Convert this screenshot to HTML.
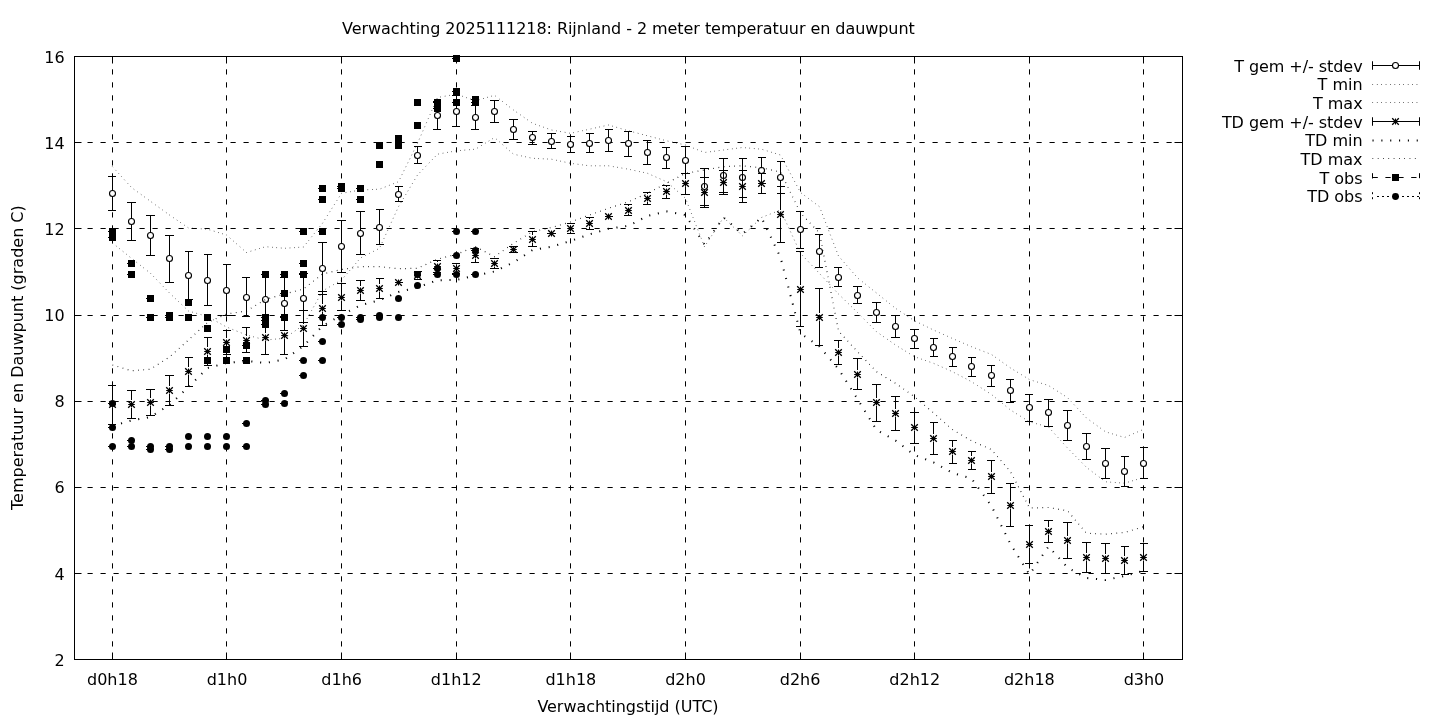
<!DOCTYPE html>
<html lang="nl"><head><meta charset="utf-8">
<title>Verwachting 2025111218: Rijnland - 2 meter temperatuur en dauwpunt</title>
<style>
html,body{margin:0;padding:0;background:#fff;}
body{width:1440px;height:720px;overflow:hidden;}
svg{display:block;position:absolute;left:0;top:0;will-change:transform;}
text{font-family:"DejaVu Sans", "Liberation Sans", sans-serif;font-size:16.00px;fill:#000;}
.ln{stroke:#000;stroke-width:1;fill:none;}
.grid{stroke:#000;stroke-width:1;fill:none;stroke-dasharray:5.2 7.8;}
.d1{stroke:#000;stroke-width:1;fill:none;stroke-dasharray:0.55 3.87;}
.d12{stroke:#000;stroke-width:1.2;fill:none;stroke-dasharray:0.7 4.6;}
.d2{stroke:#000;stroke-width:2;fill:none;stroke-dasharray:1.1 7.74;}
.oc{stroke:#000;stroke-width:1.12;fill:#fff;}
.lx{stroke:#000;stroke-width:1.3;fill:none;}
</style></head><body>
<svg width="1440" height="720" viewBox="0 0 1440 720">
<rect x="0" y="0" width="1440" height="720" fill="#fff"/>
<g class="grid">
<path d="M112.50 659.50V56.50"/>
<path d="M226.50 659.50V56.50"/>
<path d="M341.50 659.50V56.50"/>
<path d="M456.50 659.50V56.50"/>
<path d="M570.50 659.50V56.50"/>
<path d="M685.50 659.50V56.50"/>
<path d="M800.50 659.50V56.50"/>
<path d="M914.50 659.50V56.50"/>
<path d="M1029.50 659.50V56.50"/>
<path d="M1143.50 659.50V56.50"/>
<path d="M74.50 573.50H1182.50"/>
<path d="M74.50 487.50H1182.50"/>
<path d="M74.50 401.50H1182.50"/>
<path d="M74.50 315.50H1182.50"/>
<path d="M74.50 228.50H1182.50"/>
<path d="M74.50 142.50H1182.50"/>
</g>
<g class="ln">
<path d="M112.50 659.50v-7M112.50 56.50v7"/>
<path d="M226.50 659.50v-7M226.50 56.50v7"/>
<path d="M341.50 659.50v-7M341.50 56.50v7"/>
<path d="M456.50 659.50v-7M456.50 56.50v7"/>
<path d="M570.50 659.50v-7M570.50 56.50v7"/>
<path d="M685.50 659.50v-7M685.50 56.50v7"/>
<path d="M800.50 659.50v-7M800.50 56.50v7"/>
<path d="M914.50 659.50v-7M914.50 56.50v7"/>
<path d="M1029.50 659.50v-7M1029.50 56.50v7"/>
<path d="M1143.50 659.50v-7M1143.50 56.50v7"/>
<path d="M74.50 659.50h7M1182.50 659.50h-8"/>
<path d="M74.50 573.50h7M1182.50 573.50h-8"/>
<path d="M74.50 487.50h7M1182.50 487.50h-8"/>
<path d="M74.50 401.50h7M1182.50 401.50h-8"/>
<path d="M74.50 315.50h7M1182.50 315.50h-8"/>
<path d="M74.50 228.50h7M1182.50 228.50h-8"/>
<path d="M74.50 142.50h7M1182.50 142.50h-8"/>
<path d="M74.50 56.50h7M1182.50 56.50h-8"/>
</g>
<path class="ln" d="M112.50 176.50V210.50M108.00 176.50H116.00M108.00 210.50H116.00M131.50 202.50V240.50M127.00 202.50H136.00M127.00 240.50H136.00M150.50 215.50V255.50M146.00 215.50H155.00M146.00 255.50H155.00M169.50 235.50V282.50M165.00 235.50H174.00M165.00 282.50H174.00M188.50 251.50V299.50M185.00 251.50H193.00M185.00 299.50H193.00M207.50 254.50V305.50M204.00 254.50H212.00M204.00 305.50H212.00M226.50 264.50V315.50M223.00 264.50H231.00M223.00 315.50H231.00M246.50 277.50V316.50M242.00 277.50H250.00M242.00 316.50H250.00M265.50 274.50V324.50M261.00 274.50H269.00M261.00 324.50H269.00M284.50 277.50V330.50M280.00 277.50H288.00M280.00 330.50H288.00M303.50 273.50V322.50M299.00 273.50H308.00M299.00 322.50H308.00M322.50 242.50V294.50M318.00 242.50H327.00M318.00 294.50H327.00M341.50 220.50V272.50M337.00 220.50H346.00M337.00 272.50H346.00M360.50 211.50V254.50M356.00 211.50H365.00M356.00 254.50H365.00M379.50 209.50V244.50M376.00 209.50H384.00M376.00 244.50H384.00M398.50 186.50V201.50M395.00 186.50H403.00M395.00 201.50H403.00M417.50 146.50V163.50M414.00 146.50H422.00M414.00 163.50H422.00M437.50 101.50V129.50M433.00 101.50H441.00M433.00 129.50H441.00M456.50 95.50V126.50M452.00 95.50H460.00M452.00 126.50H460.00M475.50 105.50V129.50M471.00 105.50H479.00M471.00 129.50H479.00M494.50 100.50V122.50M490.00 100.50H499.00M490.00 122.50H499.00M513.50 119.50V139.50M509.00 119.50H518.00M509.00 139.50H518.00M532.50 131.50V144.50M528.00 131.50H537.00M528.00 144.50H537.00M551.50 133.50V148.50M547.00 133.50H556.00M547.00 148.50H556.00M570.50 136.50V152.50M567.00 136.50H575.00M567.00 152.50H575.00M589.50 133.50V152.50M586.00 133.50H594.00M586.00 152.50H594.00M608.50 129.50V151.50M605.00 129.50H613.00M605.00 151.50H613.00M628.50 131.50V156.50M624.00 131.50H632.00M624.00 156.50H632.00M647.50 140.50V164.50M643.00 140.50H651.00M643.00 164.50H651.00M666.50 147.50V168.50M662.00 147.50H670.00M662.00 168.50H670.00M685.50 146.50V173.50M681.00 146.50H690.00M681.00 173.50H690.00M704.50 168.50V205.50M700.00 168.50H709.00M700.00 205.50H709.00M723.50 158.50V192.50M719.00 158.50H728.00M719.00 192.50H728.00M742.50 158.50V197.50M739.00 158.50H747.00M739.00 197.50H747.00M761.50 157.50V183.50M758.00 157.50H766.00M758.00 183.50H766.00M780.50 161.50V193.50M777.00 161.50H785.00M777.00 193.50H785.00M800.50 211.50V248.50M796.00 211.50H804.00M796.00 248.50H804.00M819.50 234.50V267.50M815.00 234.50H823.00M815.00 267.50H823.00M838.50 267.50V286.50M834.00 267.50H842.00M834.00 286.50H842.00M857.50 286.50V303.50M853.00 286.50H862.00M853.00 303.50H862.00M876.50 302.50V322.50M872.00 302.50H881.00M872.00 322.50H881.00M895.50 315.50V337.50M891.00 315.50H900.00M891.00 337.50H900.00M914.50 329.50V348.50M910.00 329.50H919.00M910.00 348.50H919.00M933.50 338.50V356.50M930.00 338.50H938.00M930.00 356.50H938.00M952.50 347.50V366.50M949.00 347.50H957.00M949.00 366.50H957.00M971.50 357.50V376.50M968.00 357.50H976.00M968.00 376.50H976.00M991.50 365.50V386.50M987.00 365.50H995.00M987.00 386.50H995.00M1010.50 379.50V402.50M1006.00 379.50H1014.00M1006.00 402.50H1014.00M1029.50 394.50V421.50M1025.00 394.50H1033.00M1025.00 421.50H1033.00M1048.50 399.50V426.50M1044.00 399.50H1053.00M1044.00 426.50H1053.00M1067.50 410.50V440.50M1063.00 410.50H1072.00M1063.00 440.50H1072.00M1086.50 433.50V459.50M1082.00 433.50H1091.00M1082.00 459.50H1091.00M1105.50 448.50V478.50M1101.00 448.50H1110.00M1101.00 478.50H1110.00M1124.50 456.50V486.50M1121.00 456.50H1129.00M1121.00 486.50H1129.00M1143.50 447.50V478.50M1140.00 447.50H1148.00M1140.00 478.50H1148.00"/>
<g class="oc">
<circle cx="112.50" cy="193.50" r="3.0"/>
<circle cx="131.50" cy="221.50" r="3.0"/>
<circle cx="150.50" cy="235.50" r="3.0"/>
<circle cx="169.50" cy="258.50" r="3.0"/>
<circle cx="188.50" cy="275.50" r="3.0"/>
<circle cx="207.50" cy="280.50" r="3.0"/>
<circle cx="226.50" cy="290.50" r="3.0"/>
<circle cx="246.50" cy="297.50" r="3.0"/>
<circle cx="265.50" cy="299.50" r="3.0"/>
<circle cx="284.50" cy="303.50" r="3.0"/>
<circle cx="303.50" cy="298.50" r="3.0"/>
<circle cx="322.50" cy="268.50" r="3.0"/>
<circle cx="341.50" cy="246.50" r="3.0"/>
<circle cx="360.50" cy="233.50" r="3.0"/>
<circle cx="379.50" cy="227.50" r="3.0"/>
<circle cx="398.50" cy="194.50" r="3.0"/>
<circle cx="417.50" cy="155.50" r="3.0"/>
<circle cx="437.50" cy="115.50" r="3.0"/>
<circle cx="456.50" cy="111.50" r="3.0"/>
<circle cx="475.50" cy="117.50" r="3.0"/>
<circle cx="494.50" cy="111.50" r="3.0"/>
<circle cx="513.50" cy="129.50" r="3.0"/>
<circle cx="532.50" cy="137.50" r="3.0"/>
<circle cx="551.50" cy="141.50" r="3.0"/>
<circle cx="570.50" cy="144.50" r="3.0"/>
<circle cx="589.50" cy="143.50" r="3.0"/>
<circle cx="608.50" cy="140.50" r="3.0"/>
<circle cx="628.50" cy="143.50" r="3.0"/>
<circle cx="647.50" cy="152.50" r="3.0"/>
<circle cx="666.50" cy="157.50" r="3.0"/>
<circle cx="685.50" cy="160.50" r="3.0"/>
<circle cx="704.50" cy="186.50" r="3.0"/>
<circle cx="723.50" cy="175.50" r="3.0"/>
<circle cx="742.50" cy="177.50" r="3.0"/>
<circle cx="761.50" cy="170.50" r="3.0"/>
<circle cx="780.50" cy="177.50" r="3.0"/>
<circle cx="800.50" cy="229.50" r="3.0"/>
<circle cx="819.50" cy="251.50" r="3.0"/>
<circle cx="838.50" cy="277.50" r="3.0"/>
<circle cx="857.50" cy="295.50" r="3.0"/>
<circle cx="876.50" cy="312.50" r="3.0"/>
<circle cx="895.50" cy="326.50" r="3.0"/>
<circle cx="914.50" cy="338.50" r="3.0"/>
<circle cx="933.50" cy="347.50" r="3.0"/>
<circle cx="952.50" cy="356.50" r="3.0"/>
<circle cx="971.50" cy="366.50" r="3.0"/>
<circle cx="991.50" cy="375.50" r="3.0"/>
<circle cx="1010.50" cy="390.50" r="3.0"/>
<circle cx="1029.50" cy="407.50" r="3.0"/>
<circle cx="1048.50" cy="412.50" r="3.0"/>
<circle cx="1067.50" cy="425.50" r="3.0"/>
<circle cx="1086.50" cy="446.50" r="3.0"/>
<circle cx="1105.50" cy="463.50" r="3.0"/>
<circle cx="1124.50" cy="471.50" r="3.0"/>
<circle cx="1143.50" cy="463.50" r="3.0"/>
</g>
<path class="d1" d="M112.50 243.00L131.50 258.30L150.50 273.30L169.50 293.00L188.50 311.00L207.50 316.50L226.50 327.00L246.50 335.00L265.50 340.00L284.50 338.30L303.50 325.00L322.50 291.00L341.50 280.00L360.50 258.00L379.50 248.30L398.50 206.70L417.50 175.00L437.50 154.20L456.50 150.80L475.50 149.20L494.50 137.50L513.50 154.20L532.50 158.30L551.50 159.20L570.50 163.30L589.50 165.80L608.50 165.80L628.50 169.20L647.50 173.30L666.50 181.70L685.50 198.30L704.50 246.70L723.50 217.50L742.50 235.80L761.50 217.50L780.50 210.00L800.50 253.30L819.50 273.50L838.50 294.00L857.50 312.50L876.50 331.70L895.50 345.00L914.50 356.70L933.50 363.30L952.50 371.70L971.50 381.70L991.50 394.50L1010.50 410.00L1029.50 421.80L1048.50 427.00L1067.50 448.00L1086.50 467.40L1105.50 481.80L1124.50 483.20L1143.50 477.50"/>
<path class="d1" d="M112.50 166.70L131.50 187.50L150.50 201.30L169.50 215.00L188.50 228.00L207.50 229.20L226.50 235.00L246.50 252.50L265.50 246.70L284.50 248.30L303.50 247.00L322.50 223.30L341.50 193.30L360.50 190.00L379.50 189.20L398.50 181.70L417.50 143.30L437.50 97.50L456.50 94.20L475.50 100.80L494.50 95.30L513.50 110.00L532.50 123.30L551.50 130.00L570.50 133.30L589.50 129.20L608.50 125.00L628.50 130.80L647.50 135.80L666.50 140.80L685.50 145.00L704.50 152.50L723.50 150.00L742.50 147.50L761.50 149.20L780.50 155.00L800.50 192.50L819.50 206.70L838.50 256.00L857.50 277.80L876.50 293.00L895.50 308.30L914.50 320.80L933.50 330.00L952.50 338.50L971.50 346.70L991.50 354.50L1010.50 368.00L1029.50 379.60L1048.50 385.50L1067.50 397.60L1086.50 418.00L1105.50 431.80L1124.50 437.50L1143.50 429.40"/>
<path class="ln" d="M112.50 385.50V400.00M112.50 408.00V424.50M108.00 385.50H116.00M108.00 424.50H116.00M131.50 390.50V400.00M131.50 408.00V418.50M127.00 390.50H136.00M127.00 418.50H136.00M150.50 389.50V398.00M150.50 406.00V415.50M146.00 389.50H155.00M146.00 415.50H155.00M169.50 375.50V386.00M169.50 394.00V405.50M165.00 375.50H174.00M165.00 405.50H174.00M188.50 357.50V367.00M188.50 375.00V386.50M185.00 357.50H193.00M185.00 386.50H193.00M207.50 337.50V347.00M207.50 355.00V365.50M204.00 337.50H212.00M204.00 365.50H212.00M226.50 330.50V338.00M226.50 346.00V354.50M223.00 330.50H231.00M223.00 354.50H231.00M246.50 327.50V336.00M246.50 344.00V352.50M242.00 327.50H250.00M242.00 352.50H250.00M265.50 320.50V333.00M265.50 341.00V354.50M261.00 320.50H269.00M261.00 354.50H269.00M284.50 316.50V331.00M284.50 339.00V354.50M280.00 316.50H288.00M280.00 354.50H288.00M303.50 310.50V324.00M303.50 332.00V346.50M299.00 310.50H308.00M299.00 346.50H308.00M322.50 291.50V304.00M322.50 312.00V325.50M318.00 291.50H327.00M318.00 325.50H327.00M341.50 283.50V293.00M341.50 301.00V310.50M337.00 283.50H346.00M337.00 310.50H346.00M360.50 280.50V286.00M360.50 294.00V300.50M356.00 280.50H365.00M356.00 300.50H365.00M379.50 278.50V284.00M379.50 292.00V298.50M376.00 278.50H384.00M376.00 298.50H384.00M395.00 282.50H403.00M395.00 282.50H403.00M417.50 279.00V279.50M414.00 271.50H422.00M414.00 279.50H422.00M437.50 260.50V262.00M437.50 270.00V272.50M433.00 260.50H441.00M433.00 272.50H441.00M456.50 263.50V264.00M456.50 272.00V273.50M452.00 263.50H460.00M452.00 273.50H460.00M475.50 248.50V251.00M475.50 259.00V262.50M471.00 248.50H479.00M471.00 262.50H479.00M494.50 258.50V259.00M494.50 267.00V268.50M490.00 258.50H499.00M490.00 268.50H499.00M509.00 246.50H518.00M509.00 252.50H518.00M532.50 231.50V235.00M532.50 243.00V246.50M528.00 231.50H537.00M528.00 246.50H537.00M547.00 233.50H556.00M547.00 233.50H556.00M570.50 223.50V224.00M570.50 232.00V233.50M567.00 223.50H575.00M567.00 233.50H575.00M589.50 217.50V219.00M589.50 227.00V229.50M586.00 217.50H594.00M586.00 229.50H594.00M605.00 216.50H613.00M605.00 216.50H613.00M628.50 204.50V206.00M628.50 214.00V215.50M624.00 204.50H632.00M624.00 215.50H632.00M647.50 192.50V194.00M647.50 202.00V204.50M643.00 192.50H651.00M643.00 204.50H651.00M666.50 185.50V187.00M666.50 195.00V198.50M662.00 185.50H670.00M662.00 198.50H670.00M685.50 173.50V179.00M685.50 187.00V194.50M681.00 173.50H690.00M681.00 194.50H690.00M704.50 177.50V188.00M704.50 196.00V207.50M700.00 177.50H709.00M700.00 207.50H709.00M723.50 170.50V178.00M723.50 186.00V194.50M719.00 170.50H728.00M719.00 194.50H728.00M742.50 170.50V182.00M742.50 190.00V202.50M739.00 170.50H747.00M739.00 202.50H747.00M761.50 173.50V179.00M761.50 187.00V193.50M758.00 173.50H766.00M758.00 193.50H766.00M780.50 186.50V210.00M780.50 218.00V242.50M777.00 186.50H785.00M777.00 242.50H785.00M800.50 251.50V285.00M800.50 293.00V326.50M796.00 251.50H804.00M796.00 326.50H804.00M819.50 288.50V313.00M819.50 321.00V345.50M815.00 288.50H823.00M815.00 345.50H823.00M838.50 340.50V348.00M838.50 356.00V364.50M834.00 340.50H842.00M834.00 364.50H842.00M857.50 358.50V370.00M857.50 378.00V389.50M853.00 358.50H862.00M853.00 389.50H862.00M876.50 384.50V398.00M876.50 406.00V421.50M872.00 384.50H881.00M872.00 421.50H881.00M895.50 396.50V409.00M895.50 417.00V430.50M891.00 396.50H900.00M891.00 430.50H900.00M914.50 412.50V423.00M914.50 431.00V443.50M910.00 412.50H919.00M910.00 443.50H919.00M933.50 422.50V434.00M933.50 442.00V454.50M930.00 422.50H938.00M930.00 454.50H938.00M952.50 440.50V447.00M952.50 455.00V463.50M949.00 440.50H957.00M949.00 463.50H957.00M971.50 451.50V456.00M971.50 464.00V469.50M968.00 451.50H976.00M968.00 469.50H976.00M991.50 460.50V472.00M991.50 480.00V493.50M987.00 460.50H995.00M987.00 493.50H995.00M1010.50 483.50V501.00M1010.50 509.00V526.50M1006.00 483.50H1014.00M1006.00 526.50H1014.00M1029.50 525.50V540.00M1029.50 548.00V563.50M1025.00 525.50H1033.00M1025.00 563.50H1033.00M1048.50 520.50V527.00M1048.50 535.00V542.50M1044.00 520.50H1053.00M1044.00 542.50H1053.00M1067.50 522.50V536.00M1067.50 544.00V558.50M1063.00 522.50H1072.00M1063.00 558.50H1072.00M1086.50 542.50V553.00M1086.50 561.00V572.50M1082.00 542.50H1091.00M1082.00 572.50H1091.00M1105.50 543.50V554.00M1105.50 562.00V573.50M1101.00 543.50H1110.00M1101.00 573.50H1110.00M1124.50 546.50V556.00M1124.50 564.00V574.50M1121.00 546.50H1129.00M1121.00 574.50H1129.00M1143.50 543.50V553.00M1143.50 561.00V571.50M1140.00 543.50H1148.00M1140.00 571.50H1148.00"/>
<path class="ln" d="M109.20 404.50h6.60M112.50 401.50v6.00M128.20 404.50h6.60M131.50 401.50v6.00M147.20 402.50h6.60M150.50 399.50v6.00M166.20 390.50h6.60M169.50 387.50v6.00M185.20 371.50h6.60M188.50 368.50v6.00M204.20 351.50h6.60M207.50 348.50v6.00M223.20 342.50h6.60M226.50 339.50v6.00M243.20 340.50h6.60M246.50 337.50v6.00M262.20 337.50h6.60M265.50 334.50v6.00M281.20 335.50h6.60M284.50 332.50v6.00M300.20 328.50h6.60M303.50 325.50v6.00M319.20 308.50h6.60M322.50 305.50v6.00M338.20 297.50h6.60M341.50 294.50v6.00M357.20 290.50h6.60M360.50 287.50v6.00M376.20 288.50h6.60M379.50 285.50v6.00M395.20 282.50h6.60M398.50 279.50v6.00M414.20 275.50h6.60M417.50 272.50v6.00M434.20 266.50h6.60M437.50 263.50v6.00M453.20 268.50h6.60M456.50 265.50v6.00M472.20 255.50h6.60M475.50 252.50v6.00M491.20 263.50h6.60M494.50 260.50v6.00M510.20 249.50h6.60M513.50 246.50v6.00M529.20 239.50h6.60M532.50 236.50v6.00M548.20 233.50h6.60M551.50 230.50v6.00M567.20 228.50h6.60M570.50 225.50v6.00M586.20 223.50h6.60M589.50 220.50v6.00M605.20 216.50h6.60M608.50 213.50v6.00M625.20 210.50h6.60M628.50 207.50v6.00M644.20 198.50h6.60M647.50 195.50v6.00M663.20 191.50h6.60M666.50 188.50v6.00M682.20 183.50h6.60M685.50 180.50v6.00M701.20 192.50h6.60M704.50 189.50v6.00M720.20 182.50h6.60M723.50 179.50v6.00M739.20 186.50h6.60M742.50 183.50v6.00M758.20 183.50h6.60M761.50 180.50v6.00M777.20 214.50h6.60M780.50 211.50v6.00M797.20 289.50h6.60M800.50 286.50v6.00M816.20 317.50h6.60M819.50 314.50v6.00M835.20 352.50h6.60M838.50 349.50v6.00M854.20 374.50h6.60M857.50 371.50v6.00M873.20 402.50h6.60M876.50 399.50v6.00M892.20 413.50h6.60M895.50 410.50v6.00M911.20 427.50h6.60M914.50 424.50v6.00M930.20 438.50h6.60M933.50 435.50v6.00M949.20 451.50h6.60M952.50 448.50v6.00M968.20 460.50h6.60M971.50 457.50v6.00M988.20 476.50h6.60M991.50 473.50v6.00M1007.20 505.50h6.60M1010.50 502.50v6.00M1026.20 544.50h6.60M1029.50 541.50v6.00M1045.20 531.50h6.60M1048.50 528.50v6.00M1064.20 540.50h6.60M1067.50 537.50v6.00M1083.20 557.50h6.60M1086.50 554.50v6.00M1102.20 558.50h6.60M1105.50 555.50v6.00M1121.20 560.50h6.60M1124.50 557.50v6.00M1140.20 557.50h6.60M1143.50 554.50v6.00"/>
<path class="lx" d="M109.20 401.20l6.60 6.60M109.20 407.80l6.60 -6.60M128.20 401.20l6.60 6.60M128.20 407.80l6.60 -6.60M147.20 399.20l6.60 6.60M147.20 405.80l6.60 -6.60M166.20 387.20l6.60 6.60M166.20 393.80l6.60 -6.60M185.20 368.20l6.60 6.60M185.20 374.80l6.60 -6.60M204.20 348.20l6.60 6.60M204.20 354.80l6.60 -6.60M223.20 339.20l6.60 6.60M223.20 345.80l6.60 -6.60M243.20 337.20l6.60 6.60M243.20 343.80l6.60 -6.60M262.20 334.20l6.60 6.60M262.20 340.80l6.60 -6.60M281.20 332.20l6.60 6.60M281.20 338.80l6.60 -6.60M300.20 325.20l6.60 6.60M300.20 331.80l6.60 -6.60M319.20 305.20l6.60 6.60M319.20 311.80l6.60 -6.60M338.20 294.20l6.60 6.60M338.20 300.80l6.60 -6.60M357.20 287.20l6.60 6.60M357.20 293.80l6.60 -6.60M376.20 285.20l6.60 6.60M376.20 291.80l6.60 -6.60M395.20 279.20l6.60 6.60M395.20 285.80l6.60 -6.60M414.20 272.20l6.60 6.60M414.20 278.80l6.60 -6.60M434.20 263.20l6.60 6.60M434.20 269.80l6.60 -6.60M453.20 265.20l6.60 6.60M453.20 271.80l6.60 -6.60M472.20 252.20l6.60 6.60M472.20 258.80l6.60 -6.60M491.20 260.20l6.60 6.60M491.20 266.80l6.60 -6.60M510.20 246.20l6.60 6.60M510.20 252.80l6.60 -6.60M529.20 236.20l6.60 6.60M529.20 242.80l6.60 -6.60M548.20 230.20l6.60 6.60M548.20 236.80l6.60 -6.60M567.20 225.20l6.60 6.60M567.20 231.80l6.60 -6.60M586.20 220.20l6.60 6.60M586.20 226.80l6.60 -6.60M605.20 213.20l6.60 6.60M605.20 219.80l6.60 -6.60M625.20 207.20l6.60 6.60M625.20 213.80l6.60 -6.60M644.20 195.20l6.60 6.60M644.20 201.80l6.60 -6.60M663.20 188.20l6.60 6.60M663.20 194.80l6.60 -6.60M682.20 180.20l6.60 6.60M682.20 186.80l6.60 -6.60M701.20 189.20l6.60 6.60M701.20 195.80l6.60 -6.60M720.20 179.20l6.60 6.60M720.20 185.80l6.60 -6.60M739.20 183.20l6.60 6.60M739.20 189.80l6.60 -6.60M758.20 180.20l6.60 6.60M758.20 186.80l6.60 -6.60M777.20 211.20l6.60 6.60M777.20 217.80l6.60 -6.60M797.20 286.20l6.60 6.60M797.20 292.80l6.60 -6.60M816.20 314.20l6.60 6.60M816.20 320.80l6.60 -6.60M835.20 349.20l6.60 6.60M835.20 355.80l6.60 -6.60M854.20 371.20l6.60 6.60M854.20 377.80l6.60 -6.60M873.20 399.20l6.60 6.60M873.20 405.80l6.60 -6.60M892.20 410.20l6.60 6.60M892.20 416.80l6.60 -6.60M911.20 424.20l6.60 6.60M911.20 430.80l6.60 -6.60M930.20 435.20l6.60 6.60M930.20 441.80l6.60 -6.60M949.20 448.20l6.60 6.60M949.20 454.80l6.60 -6.60M968.20 457.20l6.60 6.60M968.20 463.80l6.60 -6.60M988.20 473.20l6.60 6.60M988.20 479.80l6.60 -6.60M1007.20 502.20l6.60 6.60M1007.20 508.80l6.60 -6.60M1026.20 541.20l6.60 6.60M1026.20 547.80l6.60 -6.60M1045.20 528.20l6.60 6.60M1045.20 534.80l6.60 -6.60M1064.20 537.20l6.60 6.60M1064.20 543.80l6.60 -6.60M1083.20 554.20l6.60 6.60M1083.20 560.80l6.60 -6.60M1102.20 555.20l6.60 6.60M1102.20 561.80l6.60 -6.60M1121.20 557.20l6.60 6.60M1121.20 563.80l6.60 -6.60M1140.20 554.20l6.60 6.60M1140.20 560.80l6.60 -6.60"/>
<path class="d2" d="M112.50 425.80L131.50 420.50L150.50 417.00L169.50 405.00L188.50 387.00L207.50 368.00L226.50 363.00L246.50 361.00L265.50 363.00L284.50 359.50L303.50 346.00L322.50 326.00L341.50 315.00L360.50 305.20L379.50 300.30L398.50 292.00L417.50 287.50L437.50 280.20L456.50 280.00L475.50 275.50L494.50 271.50L513.50 262.50L532.50 250.00L551.50 246.70L570.50 241.00L589.50 234.30L608.50 228.70L628.50 225.80L647.50 216.00L666.50 211.40L685.50 215.00L704.50 244.50L723.50 217.50L742.50 234.00L761.50 217.50L780.50 257.50L800.50 333.30L819.50 346.50L838.50 369.00L857.50 399.00L876.50 430.00L895.50 440.50L914.50 455.00L933.50 462.30L952.50 473.00L971.50 478.50L991.50 506.00L1010.50 544.00L1029.50 574.50L1048.50 546.50L1067.50 567.50L1086.50 578.00L1105.50 580.00L1124.50 576.00L1143.50 570.80"/>
<path class="d12" d="M112.50 365.00L131.50 370.80L150.50 369.20L169.50 357.00L188.50 340.00L207.50 322.50L226.50 314.00L246.50 311.00L265.50 299.50L284.50 294.00L303.50 289.00L322.50 274.00L341.50 269.50L360.50 266.70L379.50 266.70L398.50 268.70L417.50 268.30L437.50 259.20L456.50 254.20L475.50 246.70L494.50 256.70L513.50 243.30L532.50 231.70L551.50 227.50L570.50 222.00L589.50 215.00L608.50 208.30L628.50 201.70L647.50 193.30L666.50 183.30L685.50 173.30L704.50 170.00L723.50 166.70L742.50 165.80L761.50 167.80L780.50 172.00L800.50 213.00L819.50 233.00L838.50 331.00L857.50 351.70L876.50 371.70L895.50 383.30L914.50 396.70L933.50 412.90L952.50 429.60L971.50 440.80L991.50 449.60L1010.50 471.70L1029.50 508.00L1048.50 507.50L1067.50 510.80L1086.50 533.30L1105.50 534.20L1124.50 532.50L1143.50 526.70"/>
<g fill="#000">
<rect x="109.00" y="228.00" width="7" height="7"/>
<rect x="109.00" y="234.00" width="7" height="7"/>
<rect x="128.00" y="260.00" width="7" height="7"/>
<rect x="128.00" y="271.00" width="7" height="7"/>
<rect x="147.00" y="295.00" width="7" height="7"/>
<rect x="147.00" y="314.00" width="7" height="7"/>
<rect x="166.00" y="312.00" width="7" height="7"/>
<rect x="166.00" y="314.00" width="7" height="7"/>
<rect x="185.00" y="299.00" width="7" height="7"/>
<rect x="185.00" y="314.00" width="7" height="7"/>
<rect x="204.00" y="314.00" width="7" height="7"/>
<rect x="204.00" y="325.00" width="7" height="7"/>
<rect x="204.00" y="357.00" width="7" height="7"/>
<rect x="223.00" y="346.00" width="7" height="7"/>
<rect x="223.00" y="357.00" width="7" height="7"/>
<rect x="243.00" y="342.00" width="7" height="7"/>
<rect x="243.00" y="357.00" width="7" height="7"/>
<rect x="262.00" y="271.00" width="7" height="7"/>
<rect x="262.00" y="314.00" width="7" height="7"/>
<rect x="262.00" y="321.00" width="7" height="7"/>
<rect x="281.00" y="271.00" width="7" height="7"/>
<rect x="281.00" y="290.00" width="7" height="7"/>
<rect x="281.00" y="314.00" width="7" height="7"/>
<rect x="300.00" y="228.00" width="7" height="7"/>
<rect x="300.00" y="260.00" width="7" height="7"/>
<rect x="300.00" y="271.00" width="7" height="7"/>
<rect x="319.00" y="185.00" width="7" height="7"/>
<rect x="319.00" y="196.00" width="7" height="7"/>
<rect x="319.00" y="228.00" width="7" height="7"/>
<rect x="338.00" y="183.00" width="7" height="7"/>
<rect x="338.00" y="185.00" width="7" height="7"/>
<rect x="357.00" y="185.00" width="7" height="7"/>
<rect x="357.00" y="196.00" width="7" height="7"/>
<rect x="376.00" y="142.00" width="7" height="7"/>
<rect x="376.00" y="161.00" width="7" height="7"/>
<rect x="395.00" y="135.00" width="7" height="7"/>
<rect x="395.00" y="142.00" width="7" height="7"/>
<rect x="414.00" y="99.00" width="7" height="7"/>
<rect x="414.00" y="122.00" width="7" height="7"/>
<rect x="434.00" y="99.00" width="7" height="7"/>
<rect x="434.00" y="105.00" width="7" height="7"/>
<rect x="453.00" y="55.00" width="7" height="7"/>
<rect x="453.00" y="88.00" width="7" height="7"/>
<rect x="453.00" y="99.00" width="7" height="7"/>
<rect x="472.00" y="96.00" width="7" height="7"/>
<rect x="472.00" y="99.00" width="7" height="7"/>
<circle cx="112.50" cy="403.50" r="3.5"/>
<circle cx="112.50" cy="427.50" r="3.5"/>
<circle cx="112.50" cy="446.50" r="3.5"/>
<circle cx="131.50" cy="440.50" r="3.5"/>
<circle cx="131.50" cy="446.50" r="3.5"/>
<circle cx="150.50" cy="446.50" r="3.5"/>
<circle cx="150.50" cy="449.50" r="3.5"/>
<circle cx="169.50" cy="446.50" r="3.5"/>
<circle cx="169.50" cy="449.50" r="3.5"/>
<circle cx="188.50" cy="436.50" r="3.5"/>
<circle cx="188.50" cy="446.50" r="3.5"/>
<circle cx="207.50" cy="436.50" r="3.5"/>
<circle cx="207.50" cy="446.50" r="3.5"/>
<circle cx="226.50" cy="436.50" r="3.5"/>
<circle cx="226.50" cy="446.50" r="3.5"/>
<circle cx="246.50" cy="423.50" r="3.5"/>
<circle cx="246.50" cy="446.50" r="3.5"/>
<circle cx="265.50" cy="400.50" r="3.5"/>
<circle cx="265.50" cy="404.50" r="3.5"/>
<circle cx="284.50" cy="393.50" r="3.5"/>
<circle cx="284.50" cy="403.50" r="3.5"/>
<circle cx="303.50" cy="360.50" r="3.5"/>
<circle cx="303.50" cy="375.50" r="3.5"/>
<circle cx="322.50" cy="317.50" r="3.5"/>
<circle cx="322.50" cy="341.50" r="3.5"/>
<circle cx="322.50" cy="360.50" r="3.5"/>
<circle cx="341.50" cy="317.50" r="3.5"/>
<circle cx="341.50" cy="324.50" r="3.5"/>
<circle cx="360.50" cy="317.50" r="3.5"/>
<circle cx="360.50" cy="319.50" r="3.5"/>
<circle cx="379.50" cy="315.50" r="3.5"/>
<circle cx="379.50" cy="317.50" r="3.5"/>
<circle cx="398.50" cy="298.50" r="3.5"/>
<circle cx="398.50" cy="317.50" r="3.5"/>
<circle cx="417.50" cy="274.50" r="3.5"/>
<circle cx="417.50" cy="285.50" r="3.5"/>
<circle cx="437.50" cy="268.50" r="3.5"/>
<circle cx="437.50" cy="274.50" r="3.5"/>
<circle cx="456.50" cy="231.50" r="3.5"/>
<circle cx="456.50" cy="255.50" r="3.5"/>
<circle cx="456.50" cy="274.50" r="3.5"/>
<circle cx="475.50" cy="231.50" r="3.5"/>
<circle cx="475.50" cy="250.50" r="3.5"/>
<circle cx="475.50" cy="274.50" r="3.5"/>
</g>
<path class="ln" d="M108.00 231.50h1.2M108.00 237.50h1.2M127.00 263.50h1.2M127.00 274.50h1.2M146.00 298.50h1.2M146.00 317.50h1.2M165.00 315.50h1.2M165.00 317.50h1.2M242.00 345.50h1.2M242.00 360.50h1.2M261.00 274.50h1.2M261.00 317.50h1.2M261.00 324.50h1.2M280.00 274.50h1.2M280.00 293.50h1.2M280.00 317.50h1.2M299.00 231.50h1.2M299.00 263.50h1.2M299.00 274.50h1.2M318.00 188.50h1.2M318.00 199.50h1.2M318.00 231.50h1.2M337.00 186.50h1.2M337.00 188.50h1.2M356.00 188.50h1.2M356.00 199.50h1.2M433.00 102.50h1.2M433.00 108.50h1.2M452.00 58.50h1.2M452.00 91.50h1.2M452.00 102.50h1.2M471.00 99.50h1.2M471.00 102.50h1.2M108.00 403.50h1.5M108.00 427.50h1.5M108.00 446.50h1.5M127.00 440.50h1.5M127.00 446.50h1.5M146.00 446.50h1.5M146.00 449.50h1.5M165.00 446.50h1.5M165.00 449.50h1.5M242.00 423.50h1.5M242.00 446.50h1.5M261.00 400.50h1.5M261.00 404.50h1.5M280.00 393.50h1.5M280.00 403.50h1.5M299.00 360.50h1.5M299.00 375.50h1.5M318.00 317.50h1.5M318.00 341.50h1.5M318.00 360.50h1.5M337.00 317.50h1.5M337.00 324.50h1.5M356.00 317.50h1.5M356.00 319.50h1.5M433.00 268.50h1.5M433.00 274.50h1.5M452.00 231.50h1.5M452.00 255.50h1.5M452.00 274.50h1.5M471.00 231.50h1.5M471.00 250.50h1.5M471.00 274.50h1.5"/>
<rect class="ln" x="74.5" y="56.5" width="1108.0" height="603.0"/>
<g text-anchor="end">
<text x="64.6" y="666">2</text>
<text x="64.6" y="580">4</text>
<text x="64.6" y="493">6</text>
<text x="64.6" y="407">8</text>
<text x="64.6" y="321">10</text>
<text x="64.6" y="235">12</text>
<text x="64.6" y="149">14</text>
<text x="64.6" y="63">16</text>
</g>
<g text-anchor="middle">
<text x="112.40" y="685.0">d0h18</text>
<text x="227.02" y="685.0">d1h0</text>
<text x="341.64" y="685.0">d1h6</text>
<text x="456.26" y="685.0">d1h12</text>
<text x="570.88" y="685.0">d1h18</text>
<text x="685.50" y="685.0">d2h0</text>
<text x="800.12" y="685.0">d2h6</text>
<text x="914.74" y="685.0">d2h12</text>
<text x="1029.36" y="685.0">d2h18</text>
<text x="1143.98" y="685.0">d3h0</text>
<text x="628.0" y="712.3" textLength="181.2">Verwachtingstijd (UTC)</text>
<text x="628.4" y="34.0" textLength="572.8">Verwachting 2025111218: Rijnland - 2 meter temperatuur en dauwpunt</text>
<text transform="translate(22.9 357.6) rotate(-90)">Temperatuur en Dauwpunt (graden C)</text>
</g>
<g text-anchor="end">
<text x="1362.6" y="72.00" textLength="128.4">T gem +/- stdev</text>
<text x="1362.6" y="90.20">T min</text>
<text x="1362.6" y="109.00">T max</text>
<text x="1362.6" y="127.90" textLength="140.7">TD gem +/- stdev</text>
<text x="1362.6" y="146.30">TD min</text>
<text x="1362.6" y="165.00">TD max</text>
<text x="1362.6" y="183.50">T obs</text>
<text x="1362.6" y="202.10">TD obs</text>
</g>
<path class="ln" d="M1372.50 65.50H1419.50M1372.50 61.25v8.50M1419.50 61.25v8.50"/>
<circle class="oc" cx="1395.50" cy="65.50" r="3.0"/>
<path class="d1" d="M1372.50 84.50H1419.50"/>
<path class="d1" d="M1372.50 102.50H1419.50"/>
<path class="ln" d="M1372.50 121.51H1419.50M1372.50 117.26v8.50M1419.50 117.26v8.50"/>
<path class="ln" d="M1392.20 121.51h6.60M1395.50 118.51v6.00"/>
<path class="lx" d="M1392.20 118.21l6.60 6.60M1392.20 124.81l6.60 -6.60"/>
<path class="d2" d="M1372.50 140.50H1419.50"/>
<path class="d12" d="M1372.50 158.50H1419.50"/>
<path class="ln" style="stroke-dasharray:5.3 7.6" d="M1372.50 177.50H1419.50"/>
<path class="ln" d="M1372.50 173.20v5.3M1419.50 173.20v5"/>
<rect x="1392.00" y="174.00" width="7" height="7" fill="#000"/>
<path class="ln" style="stroke-dasharray:2 3" d="M1377.00 196.50H1419.50"/>
<path class="ln" style="stroke-dasharray:2 3" d="M1372.50 192.20v8.6M1419.50 192.20v8.6"/>
<circle cx="1395.50" cy="196.50" r="3.45" fill="#000"/>
</svg>
</body></html>
